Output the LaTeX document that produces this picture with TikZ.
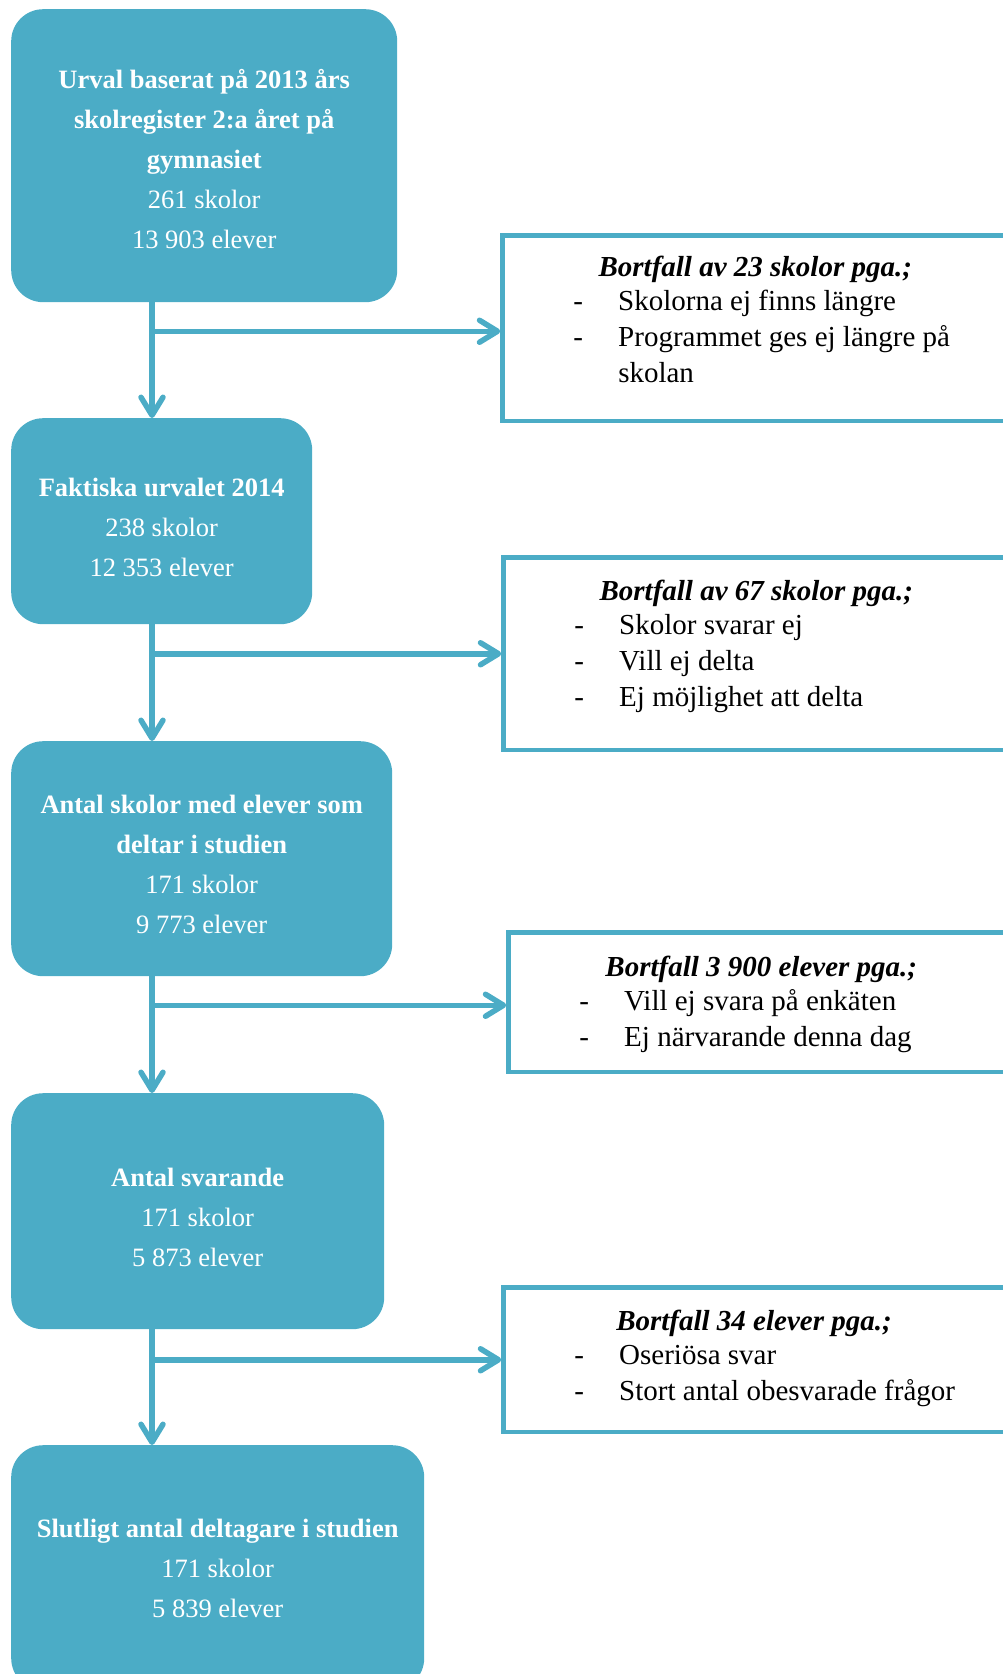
\documentclass[tikz,border=0pt]{standalone}
\usepackage{fontspec}
\setmainfont{Liberation Serif}
\usepackage{xcolor}
\usepackage{tikz}
\usetikzlibrary{arrows.meta}
\definecolor{boxblue}{HTML}{4BACC6}
\newcommand{\rubrik}[1]{\textbf{\textit{#1}}}
\newcommand{\orsak}[1]{\makebox[364pt][l]{\makebox[45pt][l]{-}#1}}

\begin{document}
\begin{tikzpicture}[x=1pt,y=-1pt,
    stage/.style={fill=boxblue,rounded corners=32pt,text=white,anchor=north west,align=center,text depth=0pt,font=\fontsize{26.5}{40}\selectfont},
    loss/.style={draw=boxblue,line width=4.5pt,anchor=north west,align=center,minimum width=505.5pt,font=\fontsize{29}{36}\selectfont},
    flow/.style={draw=boxblue,line width=5.5pt,-{Straight Barb[length=18pt,width=22pt,round]},
        preaction={draw=black,opacity=0.12,transform canvas={shift={(1pt,-1.5pt)}}}}]
    \useasboundingbox (0,0) rectangle (1002,1674);
    \node[stage,minimum width=386pt,minimum height=293pt,text height=186pt] (urval) at (11,9) {\textbf{Urval baserat på 2013 års}\\\textbf{skolregister 2:a året på}\\\textbf{gymnasiet}\\261 skolor\\13~903 elever};
    \node[stage,minimum width=301pt,minimum height=206pt,text height=111pt] (faktiska) at (11,418) {\textbf{Faktiska urvalet 2014}\\238 skolor\\12~353 elever};
    \node[stage,minimum width=381pt,minimum height=235pt,text height=150pt] (deltar) at (11,741) {\textbf{Antal skolor med elever som}\\\textbf{deltar i studien}\\171 skolor\\9~773 elever};
    \node[stage,minimum width=373pt,minimum height=236pt,text height=111pt] (svarande) at (11,1093) {\textbf{Antal svarande}\\171 skolor\\5~873 elever};
    \node[stage,minimum width=413pt,minimum height=245pt,text height=100pt] (slutligt) at (11,1445) {\textbf{Slutligt antal deltagare i studien}\\171 skolor\\5~839 elever};
    \node[loss,minimum height=185.5pt,text depth=17pt] (bortfall1) at (500.25,233.25) {\rubrik{Bortfall av 23 skolor pga.;}\\[-2pt]\orsak{Skolorna ej finns längre}\\\orsak{Programmet ges ej längre på}\\\makebox[364pt][l]{\hspace{45pt}skolan}};
    \node[loss,minimum height=192.5pt,text depth=20.3pt] (bortfall2) at (501.25,555.25) {\rubrik{Bortfall av 67 skolor pga.;}\\[-2pt]\orsak{Skolor svarar ej}\\\orsak{Vill ej delta}\\\orsak{Ej möjlighet att delta}};
    \node[loss,minimum height=139.5pt,text depth=2.3pt] (bortfall3) at (506.25,930.25) {\rubrik{Bortfall 3~900 elever pga.;}\\[-2pt]\orsak{Vill ej svara på enkäten}\\\orsak{Ej närvarande denna dag}};
    \node[loss,minimum height=144.5pt,text depth=9.3pt] (bortfall4) at (501.25,1285.25) {\makebox[364pt][l]{\hspace{42pt}\rubrik{Bortfall 34 elever pga.;}}\\[-2pt]\orsak{Oseriösa svar}\\\orsak{Stort antal obesvarade frågor}};
    \coordinate (spine) at (152,0);
    \coordinate (in1) at ([yshift=-3pt]bortfall1.west);
    \coordinate (in2) at (bortfall2.west);
    \coordinate (in3) at ([yshift=-3pt]bortfall3.west);
    \coordinate (in4) at (bortfall4.west);
    \draw[flow] (spine |- urval.south) -- (spine |- faktiska.north);
    \draw[flow] (spine |- faktiska.south) -- (spine |- deltar.north);
    \draw[flow] (spine |- deltar.south) -- (spine |- svarande.north);
    \draw[flow] (spine |- svarande.south) -- (spine |- slutligt.north);
    \draw[flow] (spine |- in1) -- (in1);
    \draw[flow] (spine |- in2) -- (in2);
    \draw[flow] (spine |- in3) -- (in3);
    \draw[flow] (spine |- in4) -- (in4);
\end{tikzpicture}
\end{document}
